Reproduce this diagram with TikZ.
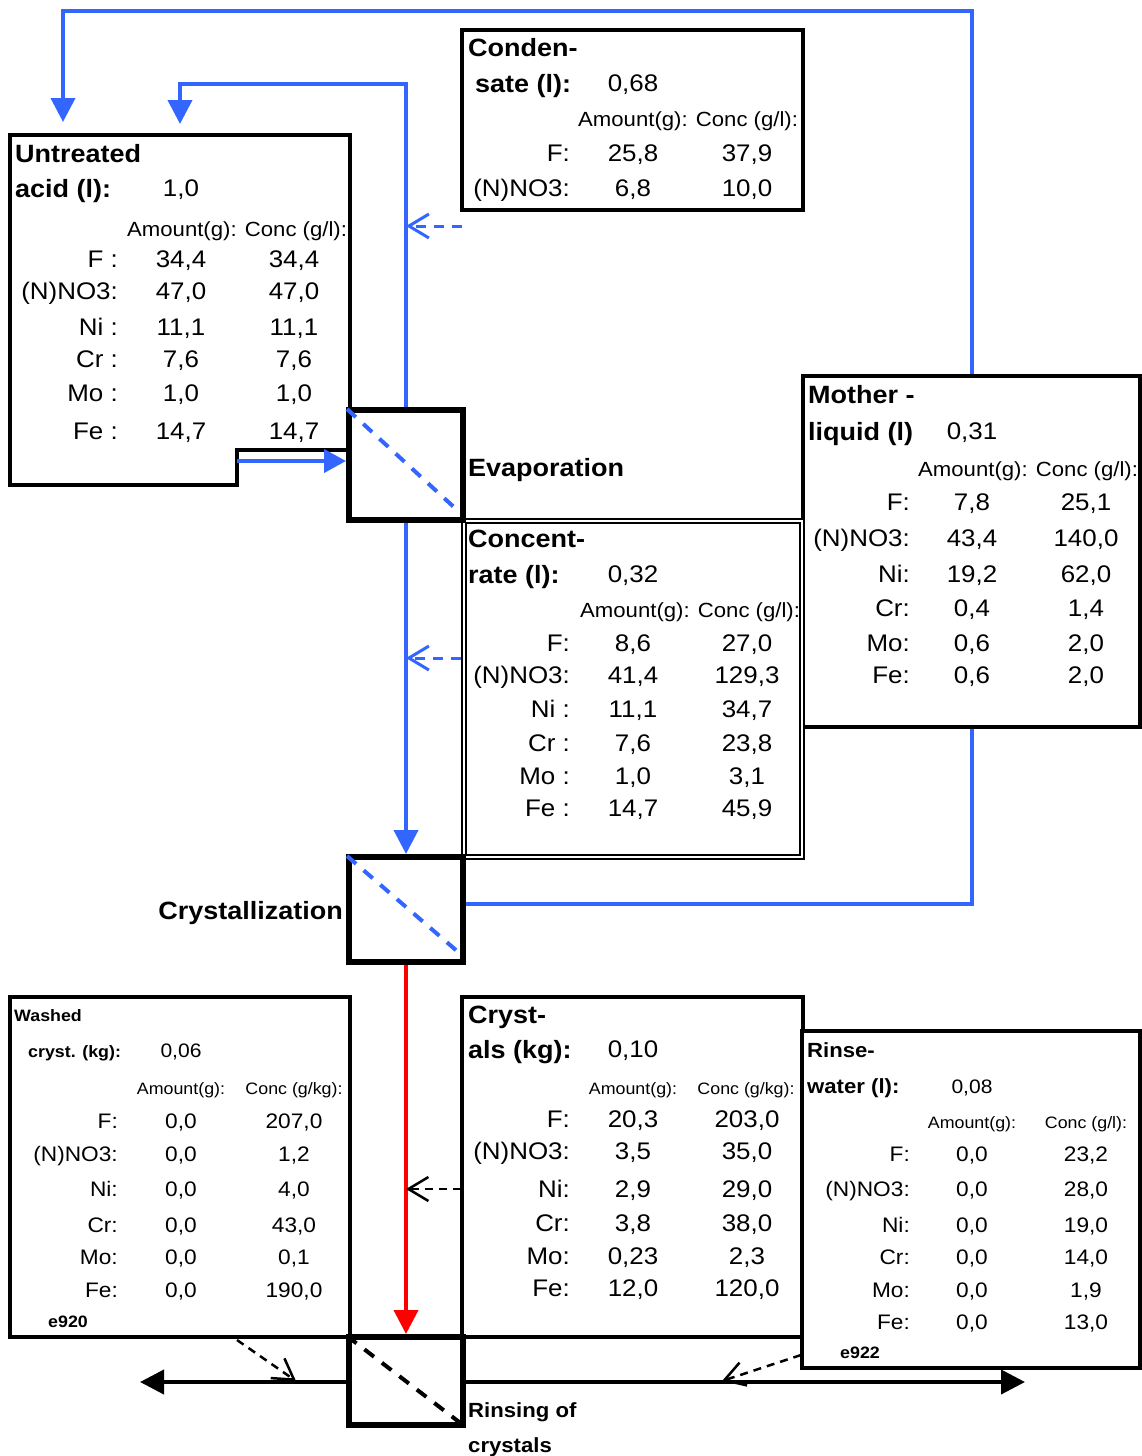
\documentclass[tikz,border=0pt]{standalone}
\usepackage{fontspec}
\setmainfont[FakeStretch=1.08]{Liberation Sans}
\usetikzlibrary{arrows.meta}
\definecolor{flowblue}{RGB}{51,102,255}
\newcommand\datarow[5]{%
  \node[rt,anchor=east] (#1l) at (\rowLX,#2) {#3};
  \node[rt] (#1a) at (\rowAX,#2) {#4};
  \node[rt] (#1b) at (\rowBX,#2) {#5};}
\begin{document}
\begin{tikzpicture}[x=1pt,y=-1pt,
  databox/.style={draw, fill=white, line width=4.5pt, inner sep=0pt},
  procbox/.style={draw, fill=white, line width=6pt, inner sep=0pt, minimum width=114pt},
  tb/.style={inner sep=0pt, font=\bfseries\fontsize{25}{28}\selectfont, text height=18pt, text depth=0pt},
  tn/.style={inner sep=0pt, font=\fontsize{24}{28}\selectfont, text height=17.2pt, text depth=0pt},
  th/.style={inner sep=0pt, font=\fontsize{20.5}{24}\selectfont, text height=14.6pt, text depth=0pt},
  tm/.style={inner sep=0pt, font=\fontsize{21}{24}\selectfont, text height=15pt, text depth=0pt},
  ts/.style={inner sep=0pt, font=\fontsize{16.5}{20}\selectfont, text height=11.8pt, text depth=0pt},
  tsb/.style={inner sep=0pt, font=\bfseries\fontsize{16.5}{20}\selectfont, text height=11.8pt, text depth=0pt},
  trb/.style={inner sep=0pt, font=\bfseries\fontsize{20.5}{24}\selectfont, text height=14.7pt, text depth=0pt},
  tmb/.style={inner sep=0pt, font=\bfseries\fontsize{20.5}{24}\selectfont, text height=14.7pt, text depth=0pt},
  tv/.style={inner sep=0pt, font=\fontsize{19.5}{22}\selectfont, text height=14pt, text depth=0pt},
  rt/.style={tn},
  bflow/.style={draw=flowblue, line width=4pt},
  btip/.style={-{Triangle[length=24pt,width=24pt]}},
  bdash/.style={draw=flowblue, line width=3pt, dash pattern=on 10pt off 8pt, -{Straight Barb[length=20pt,width=24pt]}},
  kdash/.style={draw=black, line width=2.5pt, dash pattern=on 8pt off 6pt, -{Straight Barb[length=20pt,width=24pt]}},
  diag/.style={line width=4pt, dash pattern=on 12pt off 10pt}]
\path[use as bounding box] (0,0) rectangle (1141,1456);

% ---------- data boxes ----------
\draw[line width=4.5pt] (10,135) -- (350,135) -- (350,450) -- (237,450) -- (237,485) -- (10,485) -- cycle;
\coordinate (uaout) at (237,461);
\node[databox, minimum width=341pt, minimum height=180pt] (cond) at (632.5,120) {};
\node[databox, minimum width=337pt, minimum height=351pt] (mother) at (971.5,551.5) {};
\node[draw, fill=white, line width=2pt, double, double distance=2.5pt, inner sep=0pt, minimum width=338pt, minimum height=336pt] (conc) at (633,689) {};
\node[databox, minimum width=340pt, minimum height=340pt] (washed) at (180,1167) {};
\node[databox, minimum width=341pt, minimum height=340pt] (crys) at (632.5,1167) {};
\node[databox, minimum width=338pt, minimum height=337pt] (rinsew) at (971,1199.5) {};

% ---------- process boxes ----------
\node[procbox, minimum height=110pt] (evap) at (406,465) {};
\node[procbox, minimum height=105pt] (cryst) at (406,909.5) {};
\node[procbox, minimum height=88pt] (rinse) at (406,1381) {};
\draw[diag, flowblue] ([shift={(1,2)}]evap.north west) -- ([shift={(-10,-14)}]evap.south east);
\draw[diag, flowblue] ([shift={(1,2)}]cryst.north west) -- ([shift={(-9,-14)}]cryst.south east);
\draw[diag, black] ([shift={(1,2)}]rinse.north west) -- ([shift={(-3,-3)}]rinse.south east);

% ---------- process labels ----------
\node[tb, anchor=west] (levap) at (468,467) {Evaporation};
\node[tb, anchor=east] (lcryst) at (343,910) {Crystallization};
\node[tmb, anchor=west] (lrinse1) at (468,1410) {Rinsing of};
\node[tmb, anchor=west] (lrinse2) at (468,1445) {crystals};

% ---------- blue flows ----------
\coordinate (c1) at (63,11);
\coordinate (t1) at (63,122);
\coordinate (c2) at (180,84);
\coordinate (t2) at (180,124);
\draw[bflow, btip] (mother.north) |- (c1) -- (t1);
\draw[bflow, btip] (evap.north) |- (c2) -- (t2);
\draw[bflow, -{Triangle[length=22pt,width=23pt]}] (uaout) -- (uaout -| evap.west);
\draw[bflow, btip] (evap.south) -- (cryst.north);
\draw[bflow] (cryst.east |- 0,904) -| (mother.south);
\coordinate (condout) at (462,226);
\draw[bdash] (condout) -- (condout -| evap.north);
\coordinate (concout) at (461,658);
\draw[bdash] (concout) -- (concout -| evap.south);

% ---------- red / black flows ----------
\draw[draw=red, line width=4pt, -{Triangle[length=24pt,width=24pt]}] (cryst.south) -- (rinse.north);
\coordinate (crysout) at (461,1189);
\draw[kdash] (crysout) -- (crysout -| cryst.south);
\coordinate (lend) at (140,1382);
\coordinate (rend) at (1025,1382);
\draw[line width=4pt, -{Triangle[length=24pt,width=24pt]}] (rinse.west |- lend) -- (lend);
\draw[line width=4pt, -{Triangle[length=24pt,width=24pt]}] (rinse.east |- rend) -- (rend);
\coordinate (wout) at (237,1340);
\coordinate (wtip) at (296,1381);
\draw[kdash] (wout) -- (wtip);
\coordinate (rwout) at (801,1355);
\coordinate (rwtip) at (722,1381);
\draw[kdash] (rwout) -- (rwtip);

% ---------- Untreated acid ----------
\node[tb, anchor=west] (ua-t1) at (15,153) {Untreated};
\node[tb, anchor=west] (ua-t2) at (15,188) {acid (l):};
\node[tn] (ua-v) at (181,188) {1,0};
\node[th, anchor=west] (ua-h) at (127,229) {Amount(g): Conc (g/l):};
\def\rowLX{118}\def\rowAX{181}\def\rowBX{294}
\datarow{ua1}{259}{F :}{34,4}{34,4}
\datarow{ua2}{291}{(N)NO3:}{47,0}{47,0}
\datarow{ua3}{327}{Ni :}{11,1}{11,1}
\datarow{ua4}{359}{Cr :}{7,6}{7,6}
\datarow{ua5}{393}{Mo :}{1,0}{1,0}
\datarow{ua6}{431}{Fe :}{14,7}{14,7}

% ---------- Condensate ----------
\node[tb, anchor=west] (cd-t1) at (468,47) {Conden-};
\node[tb, anchor=west] (cd-t2) at (475,83) {sate (l):};
\node[tn] (cd-v) at (633,83) {0,68};
\node[th, anchor=west] (cd-h) at (578,119) {Amount(g): Conc (g/l):};
\def\rowLX{570}\def\rowAX{633}\def\rowBX{747}
\datarow{cd1}{153}{F:}{25,8}{37,9}
\datarow{cd2}{188}{(N)NO3:}{6,8}{10,0}

% ---------- Concentrate ----------
\node[tb, anchor=west] (cc-t1) at (468,538) {Concent-};
\node[tb, anchor=west] (cc-t2) at (468,574) {rate (l):};
\node[tn] (cc-v) at (633,574) {0,32};
\node[th, anchor=west] (cc-h) at (580,610) {Amount(g): Conc (g/l):};
\datarow{cc1}{643}{F:}{8,6}{27,0}
\datarow{cc2}{675}{(N)NO3:}{41,4}{129,3}
\datarow{cc3}{709}{Ni :}{11,1}{34,7}
\datarow{cc4}{743}{Cr :}{7,6}{23,8}
\datarow{cc5}{776}{Mo :}{1,0}{3,1}
\datarow{cc6}{808}{Fe :}{14,7}{45,9}

% ---------- Mother liquid ----------
\node[tb, anchor=west] (ml-t1) at (808,394) {Mother -};
\node[tb, anchor=west] (ml-t2) at (808,431) {liquid (l)};
\node[tn] (ml-v) at (972,431) {0,31};
\node[th, anchor=west] (ml-h) at (918,469) {Amount(g): Conc (g/l):};
\def\rowLX{910}\def\rowAX{972}\def\rowBX{1086}
\datarow{ml1}{502}{F:}{7,8}{25,1}
\datarow{ml2}{538}{(N)NO3:}{43,4}{140,0}
\datarow{ml3}{574}{Ni:}{19,2}{62,0}
\datarow{ml4}{608}{Cr:}{0,4}{1,4}
\datarow{ml5}{643}{Mo:}{0,6}{2,0}
\datarow{ml6}{675}{Fe:}{0,6}{2,0}

% ---------- Crystals ----------
\node[tb, anchor=west] (cr-t1) at (468,1014) {Cryst-};
\node[tb, anchor=west] (cr-t2) at (468,1049) {als (kg):};
\node[tn] (cr-v) at (633,1049) {0,10};
\node[ts] (cr-h1) at (633,1089) {Amount(g):};
\node[ts] (cr-h2) at (746,1089) {Conc (g/kg):};
\def\rowLX{570}\def\rowAX{633}\def\rowBX{747}
\datarow{cr1}{1119}{F:}{20,3}{203,0}
\datarow{cr2}{1151}{(N)NO3:}{3,5}{35,0}
\datarow{cr3}{1189}{Ni:}{2,9}{29,0}
\datarow{cr4}{1223}{Cr:}{3,8}{38,0}
\datarow{cr5}{1256}{Mo:}{0,23}{2,3}
\datarow{cr6}{1288}{Fe:}{12,0}{120,0}

% ---------- Washed crystals ----------
\node[tsb, anchor=west] (wc-t1) at (14,1016) {Washed};
\node[tsb, anchor=west] (wc-t2) at (28,1052) {cryst. (kg):};
\node[tv] (wc-v) at (181,1050) {0,06};
\node[ts] (wc-h1) at (181,1089) {Amount(g):};
\node[ts] (wc-h2) at (294,1089) {Conc (g/kg):};
\begin{scope}[rt/.style={tm}]
\def\rowLX{118}\def\rowAX{181}\def\rowBX{294}
\datarow{wc1}{1121}{F:}{0,0}{207,0}
\datarow{wc2}{1154}{(N)NO3:}{0,0}{1,2}
\datarow{wc3}{1189}{Ni:}{0,0}{4,0}
\datarow{wc4}{1225}{Cr:}{0,0}{43,0}
\datarow{wc5}{1257}{Mo:}{0,0}{0,1}
\datarow{wc6}{1290}{Fe:}{0,0}{190,0}
\end{scope}
\node[tsb, anchor=west] (wc-id) at (48,1322) {e920};

% ---------- Rinse water ----------
\node[trb, anchor=west] (rw-t1) at (807,1050) {Rinse-};
\node[trb, anchor=west] (rw-t2) at (807,1086) {water (l):};
\node[tv] (rw-v) at (972,1086) {0,08};
\node[ts] (rw-h1) at (972,1123) {Amount(g):};
\node[ts] (rw-h2) at (1086,1123) {Conc (g/l):};
\begin{scope}[rt/.style={tm}]
\def\rowLX{910}\def\rowAX{972}\def\rowBX{1086}
\datarow{rw1}{1154}{F:}{0,0}{23,2}
\datarow{rw2}{1189}{(N)NO3:}{0,0}{28,0}
\datarow{rw3}{1225}{Ni:}{0,0}{19,0}
\datarow{rw4}{1257}{Cr:}{0,0}{14,0}
\datarow{rw5}{1290}{Mo:}{0,0}{1,9}
\datarow{rw6}{1322}{Fe:}{0,0}{13,0}
\end{scope}
\node[tsb, anchor=west] (rw-id) at (840,1353) {e922};
\end{tikzpicture}
\end{document}
